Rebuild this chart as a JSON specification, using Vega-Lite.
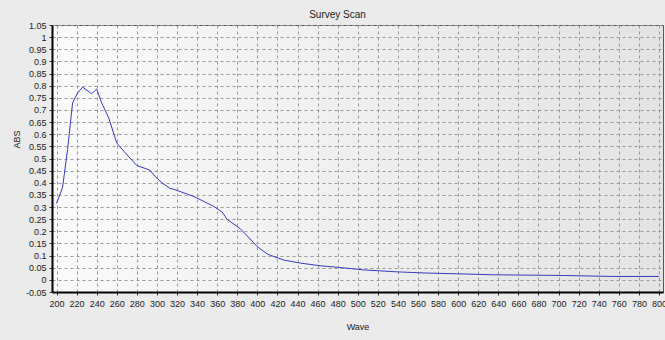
{
  "$schema": "https://vega.github.io/schema/vega-lite/v6.json",
  "autosize": "none",
  "width": 611,
  "height": 267,
  "padding": {"left": 52, "top": 25, "right": 2, "bottom": 48},
  "background": "#ebebeb",
  "title": {"text": "Survey Scan", "anchor": "middle", "dx": -20, "offset": 1, "fontSize": 10, "fontWeight": "normal", "font": "Liberation Sans", "color": "#222"},
  "config": {
    "view": {"stroke": "#555", "strokeWidth": 1, "fill": {"gradient": "linear", "x1": 0, "y1": 0, "x2": 1, "y2": 0, "stops": [{"offset": 0, "color": "#fafafa"}, {"offset": 1, "color": "#e3e3e3"}]}},
    "axis": {"labelFont": "Liberation Sans", "titleFont": "Liberation Sans", "labelFontSize": 9, "titleFontSize": 9, "titleFontWeight": "normal", "labelColor": "#222", "titleColor": "#222", "domainColor": "#000", "domainWidth": 2, "tickColor": "#333", "tickSize": 3, "gridColor": "#999", "gridDash": [3, 3], "gridWidth": 1}
  },
  "data": {"values": [
    {"wave": 200, "abs": 0.315},
    {"wave": 206, "abs": 0.380},
    {"wave": 211, "abs": 0.537},
    {"wave": 216, "abs": 0.729},
    {"wave": 221, "abs": 0.770},
    {"wave": 226, "abs": 0.794},
    {"wave": 235, "abs": 0.767},
    {"wave": 240, "abs": 0.786},
    {"wave": 245, "abs": 0.729},
    {"wave": 252, "abs": 0.667},
    {"wave": 260, "abs": 0.564},
    {"wave": 267, "abs": 0.530},
    {"wave": 280, "abs": 0.471},
    {"wave": 289, "abs": 0.458},
    {"wave": 293, "abs": 0.452},
    {"wave": 298, "abs": 0.427},
    {"wave": 305, "abs": 0.400},
    {"wave": 313, "abs": 0.377},
    {"wave": 317, "abs": 0.373},
    {"wave": 337, "abs": 0.343},
    {"wave": 356, "abs": 0.304},
    {"wave": 365, "abs": 0.279},
    {"wave": 370, "abs": 0.249},
    {"wave": 383, "abs": 0.211},
    {"wave": 400, "abs": 0.137},
    {"wave": 410, "abs": 0.106},
    {"wave": 426, "abs": 0.082},
    {"wave": 443, "abs": 0.069},
    {"wave": 463, "abs": 0.058},
    {"wave": 482, "abs": 0.051},
    {"wave": 506, "abs": 0.041},
    {"wave": 539, "abs": 0.033},
    {"wave": 569, "abs": 0.028},
    {"wave": 599, "abs": 0.025},
    {"wave": 635, "abs": 0.021},
    {"wave": 705, "abs": 0.018},
    {"wave": 755, "abs": 0.014},
    {"wave": 800, "abs": 0.014}
  ]},
  "mark": {"type": "line", "color": "#3a3ac0", "strokeWidth": 1},
  "encoding": {
    "x": {"field": "wave", "type": "quantitative", "title": "Wave",
      "scale": {"domain": [195.5, 804], "nice": false, "zero": false},
      "axis": {"values": [200,220,240,260,280,300,320,340,360,380,400,420,440,460,480,500,520,540,560,580,600,620,640,660,680,700,720,740,760,780,800], "labelPadding": 4, "titlePadding": 14, "labelFlush": false}},
    "y": {"field": "abs", "type": "quantitative", "title": "ABS",
      "scale": {"domain": [-0.05, 1.05], "nice": false, "zero": false},
      "axis": {"values": [-0.05,0,0.05,0.1,0.15,0.2,0.25,0.3,0.35,0.4,0.45,0.5,0.55,0.6,0.65,0.7,0.75,0.8,0.85,0.9,0.95,1,1.05], "labelExpr": "replace(format(datum.value, '.2~f'), '\u2212', '-')", "labelPadding": 3, "titlePadding": 4, "labelFlush": false, "titleY": 114}}
  }
}
